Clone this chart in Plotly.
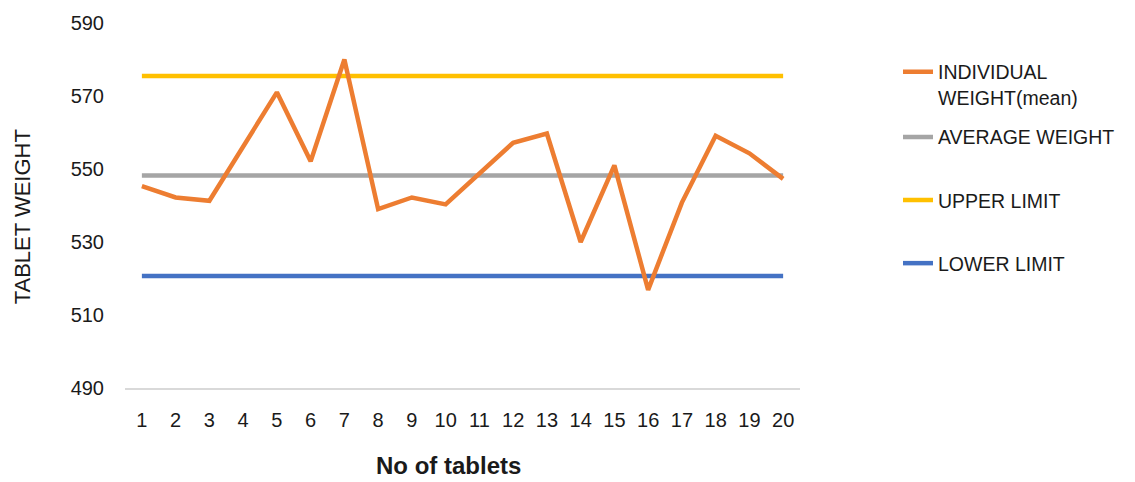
import plotly.graph_objects as go

tablets = list(range(1, 21))
weights = [545.3, 542.2, 541.3, 556.3, 571.0, 552.1, 580.0, 539.0, 542.2, 540.3,
           548.6, 557.2, 559.7, 530.0, 551.0, 516.9, 540.8, 559.1, 554.3, 547.3]
avg_weight = [548.2] * 20
upper_limit = [575.5] * 20
lower_limit = [520.7] * 20

font_family = "Liberation Sans, Arial, sans-serif"
text_color = "#1a1a1a"

fig = go.Figure()

series = [
    ("INDIVIDUAL<br>WEIGHT(mean)", weights, "#ED7D31", "legend"),
    ("AVERAGE WEIGHT", avg_weight, "#A5A5A5", "legend2"),
    ("UPPER LIMIT", upper_limit, "#FFC000", "legend3"),
    ("LOWER LIMIT", lower_limit, "#4472C4", "legend4"),
]

# draw order: limits/average under the individual weights line
for name, vals, color, leg in [series[1], series[2], series[3], series[0]]:
    fig.add_trace(go.Scatter(
        x=tablets, y=vals, mode="lines", name=name,
        line=dict(color=color, width=4.5),
        legend=leg,
    ))

# paper coords: plot spans x 125..800 px, y 18..388 px
def px_x(p):
    return (p - 125) / 675.0

def px_y(p):
    return (388 - p) / 370.0

leg_common = dict(
    x=px_x(898), xanchor="left", yanchor="top",
    font=dict(family=font_family, size=19.5, color=text_color),
    bgcolor="rgba(0,0,0,0)", valign="top",
)
leg_tops = [48, 114, 178, 242]

fig.update_layout(
    width=1135, height=482,
    margin=dict(l=125, r=335, t=18, b=94),
    plot_bgcolor="white", paper_bgcolor="white",
    font=dict(family=font_family, size=20, color=text_color),
    showlegend=True,
    legend=dict(y=px_y(leg_tops[0]), **leg_common),
    legend2=dict(y=px_y(leg_tops[1]), **leg_common),
    legend3=dict(y=px_y(leg_tops[2]), **leg_common),
    legend4=dict(y=px_y(leg_tops[3]), **leg_common),
    xaxis=dict(
        range=[0.5, 20.5], tickmode="array", tickvals=tablets,
        ticktext=[str(t) for t in tablets],
        showgrid=False, zeroline=False,
        showline=True, linecolor="#D9D9D9", linewidth=1.5,
        ticks="", ticklabelstandoff=13,
        tickfont=dict(size=20, color=text_color),
    ),
    yaxis=dict(
        range=[490, 590], tickvals=[490, 510, 530, 550, 570, 590],
        showgrid=False, zeroline=False, showline=False,
        ticks="", ticklabelstandoff=20,
        tickfont=dict(size=20, color=text_color),
    ),
    annotations=[
        dict(text="TABLET WEIGHT", textangle=-90, xref="paper", yref="paper",
             x=px_x(22), y=px_y(215), showarrow=False,
             xanchor="center", yanchor="middle",
             font=dict(size=22, color=text_color)),
        dict(text="<b>No of tablets</b>", xref="paper", yref="paper",
             x=px_x(448), y=px_y(467), showarrow=False,
             xanchor="center", yanchor="middle",
             font=dict(size=24, color=text_color)),
    ],
)

fig.write_html("out.html", config={"displayModeBar": False},
               post_script="document.body.style.margin='0';")
